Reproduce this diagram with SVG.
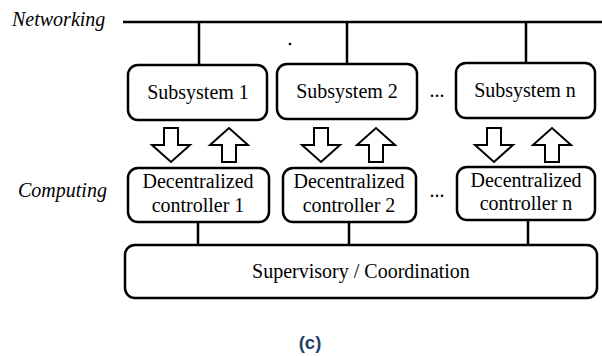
<svg xmlns="http://www.w3.org/2000/svg" xmlns:xlink="http://www.w3.org/1999/xlink" width="602" height="356" viewBox="0 0 602 356">
  <style>
    .box { fill: #ffffff; stroke: #000000; stroke-width: 2.5; }
    .wire { stroke: #000000; stroke-width: 2.5; fill: none; }
    .arrow { fill: #ffffff; stroke: #000000; stroke-width: 2; stroke-linejoin: miter; }
    .lbl { font-family: "Liberation Serif", "Times New Roman", serif; font-size: 20px; fill: #000000; text-anchor: middle; }
    .side { font-family: "Liberation Serif", "Times New Roman", serif; font-size: 20px; font-style: italic; fill: #000000; }
    .cap { font-family: "Liberation Sans", Arial, sans-serif; font-size: 18.5px; font-weight: bold; fill: #1f3f66; text-anchor: middle; }
  </style>
  <defs>
    <!-- block arrows centred on x=0, spanning y=128..162 -->
    <path id="arrDown" class="arrow" d="M-7,128 H7 V145 H19 L0,162 L-19,145 H-7 Z"/>
    <path id="arrUp" class="arrow" d="M-7,162 H7 V145 H19 L0,128 L-19,145 H-7 Z"/>
  </defs>

  <rect width="602" height="356" fill="#ffffff"/>

  <!-- layer labels -->
  <text class="side" x="12" y="26">Networking</text>
  <text class="side" x="18" y="197">Computing</text>

  <!-- connectors -->
  <g id="connectors">
    <line class="wire" x1="123" y1="22" x2="602" y2="22"/>
    <line class="wire" x1="199" y1="22" x2="199" y2="66"/>
    <line class="wire" x1="347" y1="22" x2="347" y2="65"/>
    <line class="wire" x1="526" y1="22" x2="526" y2="64"/>
    <line class="wire" x1="198" y1="222" x2="198" y2="246"/>
    <line class="wire" x1="349" y1="222" x2="349" y2="246"/>
    <line class="wire" x1="528" y1="220" x2="528" y2="246"/>
    <use xlink:href="#arrDown" x="171"/>
    <use xlink:href="#arrUp" x="229"/>
    <use xlink:href="#arrDown" x="321"/>
    <use xlink:href="#arrUp" x="376"/>
    <use xlink:href="#arrDown" x="494"/>
    <use xlink:href="#arrUp" x="552"/>
  </g>

  <circle cx="290" cy="44" r="1.3" fill="#000000"/>

  <g id="subsystem1">
    <rect class="box" x="128" y="65" width="139" height="55" rx="10"/>
    <text class="lbl" x="198" y="99">Subsystem 1</text>
  </g>
  <g id="subsystem2">
    <rect class="box" x="277" y="64" width="140" height="55" rx="10"/>
    <text class="lbl" x="347" y="98">Subsystem 2</text>
  </g>
  <text class="lbl" x="437" y="97">...</text>
  <g id="subsystemN">
    <rect class="box" x="456" y="63" width="139" height="55" rx="10"/>
    <text class="lbl" x="525" y="97">Subsystem n</text>
  </g>

  <g id="controller1">
    <rect class="box" x="128" y="168" width="141" height="54" rx="10"/>
    <text class="lbl" x="198" y="188">Decentralized</text>
    <text class="lbl" x="198" y="212">controller 1</text>
  </g>
  <g id="controller2">
    <rect class="box" x="283" y="168" width="133" height="54" rx="10"/>
    <text class="lbl" x="349" y="188">Decentralized</text>
    <text class="lbl" x="349" y="212">controller 2</text>
  </g>
  <text class="lbl" x="437" y="197">...</text>
  <g id="controllerN">
    <rect class="box" x="457" y="167" width="138" height="53" rx="10"/>
    <text class="lbl" x="526" y="187">Decentralized</text>
    <text class="lbl" x="526" y="210">controller n</text>
  </g>

  <g id="supervisory">
    <rect class="box" x="125" y="245" width="472" height="53" rx="10"/>
    <text class="lbl" x="361" y="278">Supervisory / Coordination</text>
  </g>

  <text class="cap" x="310" y="349">(c)</text>
</svg>
